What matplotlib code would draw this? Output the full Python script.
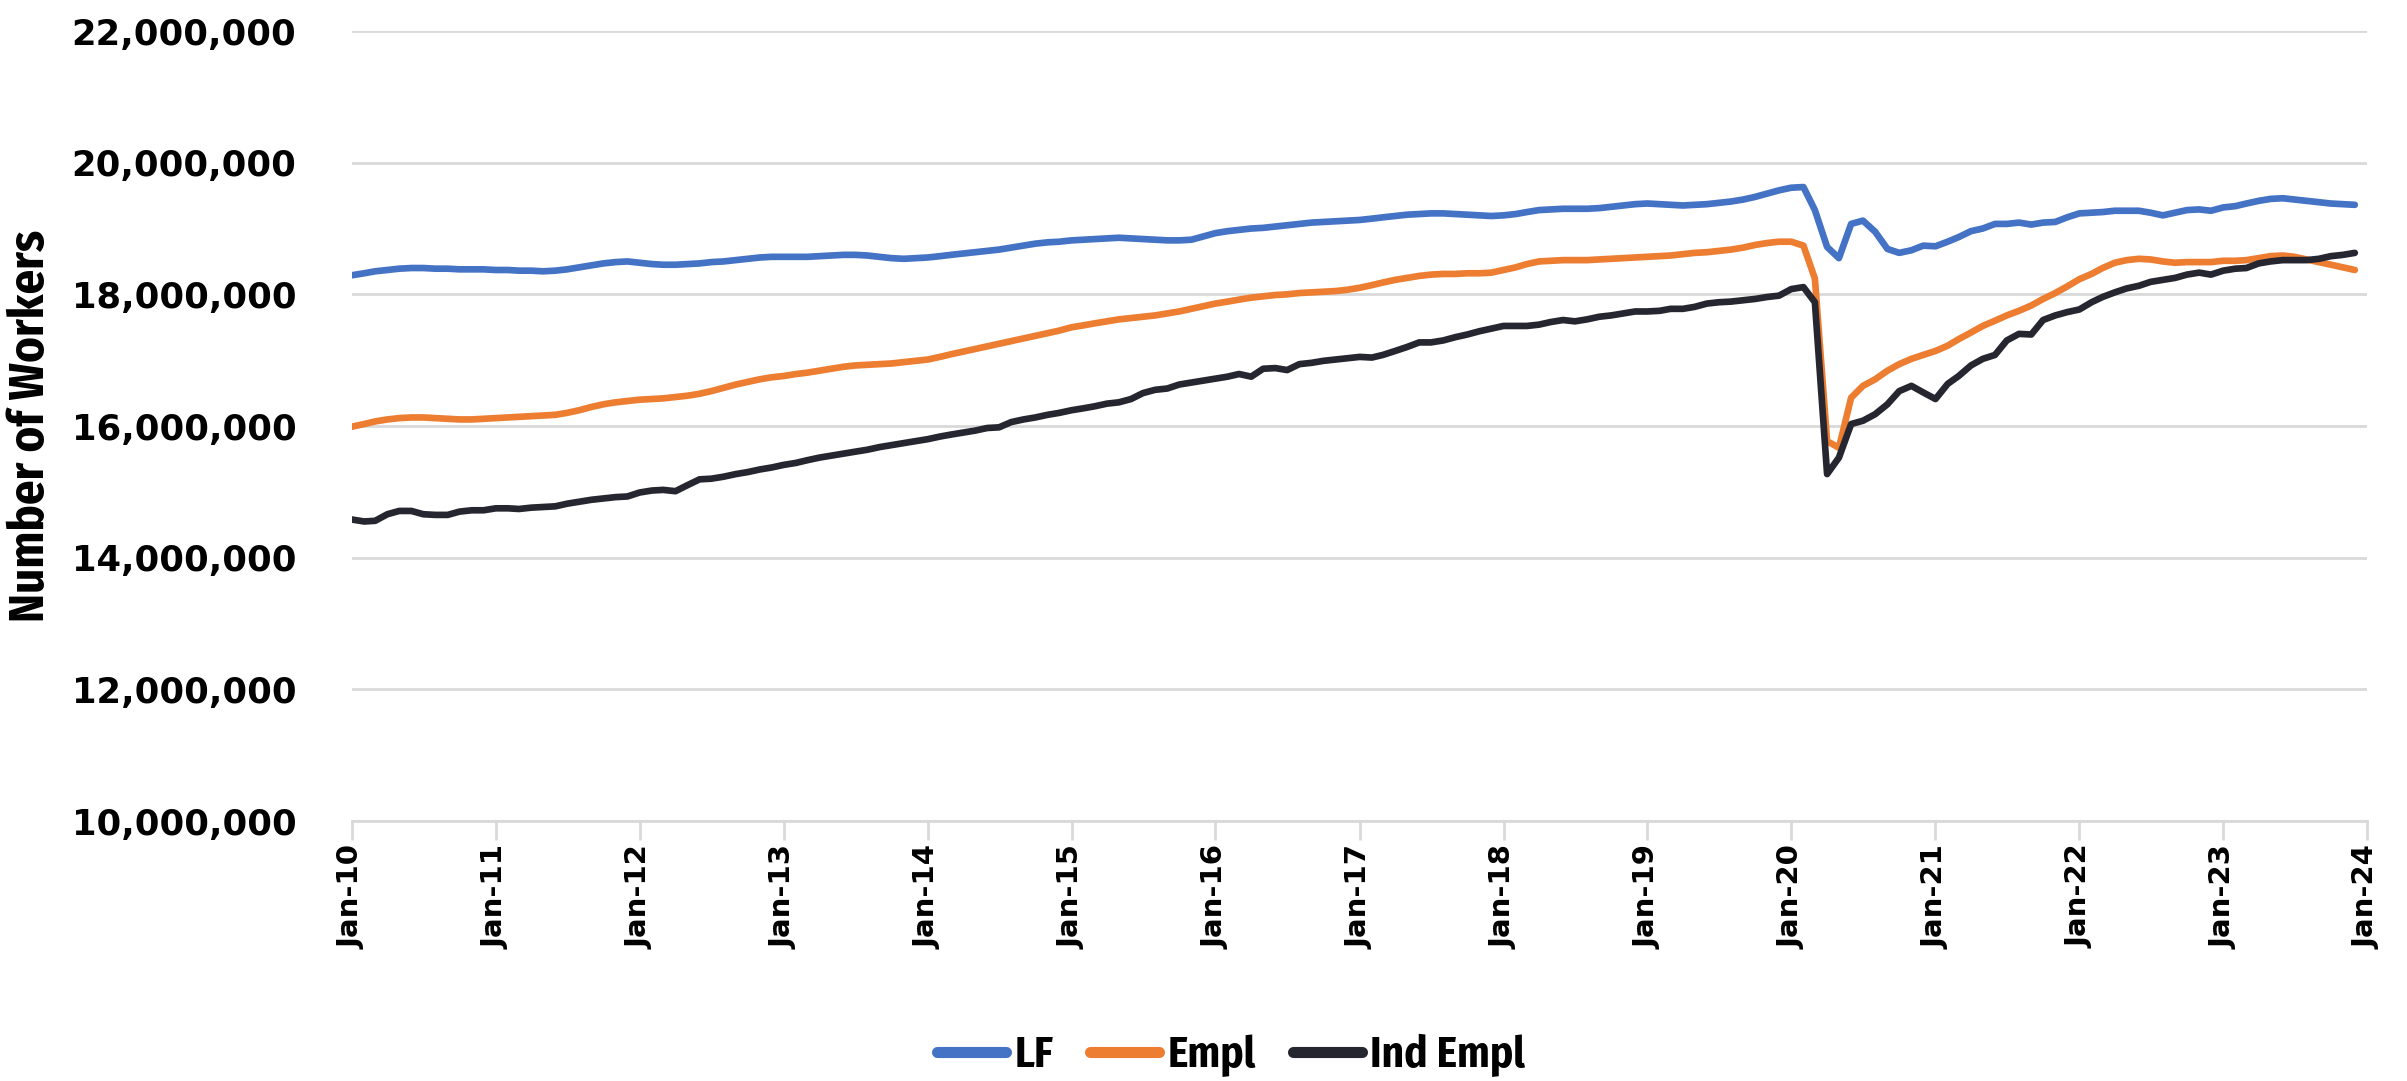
import matplotlib
matplotlib.use("Agg")
import matplotlib.pyplot as plt
import matplotlib.dates as mdates
import matplotlib.ticker as mticker
from matplotlib import font_manager as fm
import pandas as pd
import numpy as np

# Monthly values, Jan-2010 .. Dec-2023 (millions of workers)
lf_millions = [
    18.29, 18.32, 18.35, 18.37, 18.39, 18.40, 18.40, 18.39, 18.39, 18.38, 18.38, 18.38,  # 2010
    18.37, 18.37, 18.36, 18.36, 18.35, 18.36, 18.38, 18.41, 18.44, 18.47, 18.49, 18.50,  # 2011
    18.48, 18.46, 18.45, 18.45, 18.46, 18.47, 18.49, 18.50, 18.52, 18.54, 18.56, 18.57,  # 2012
    18.57, 18.57, 18.57, 18.58, 18.59, 18.60, 18.60, 18.59, 18.57, 18.55, 18.54, 18.55,  # 2013
    18.56, 18.58, 18.60, 18.62, 18.64, 18.66, 18.68, 18.71, 18.74, 18.77, 18.79, 18.80,  # 2014
    18.82, 18.83, 18.84, 18.85, 18.86, 18.85, 18.84, 18.83, 18.82, 18.82, 18.83, 18.88,  # 2015
    18.93, 18.96, 18.98, 19.00, 19.01, 19.03, 19.05, 19.07, 19.09, 19.10, 19.11, 19.12,  # 2016
    19.13, 19.15, 19.17, 19.19, 19.21, 19.22, 19.23, 19.23, 19.22, 19.21, 19.20, 19.19,  # 2017
    19.20, 19.22, 19.25, 19.28, 19.29, 19.30, 19.30, 19.30, 19.31, 19.33, 19.35, 19.37,  # 2018
    19.38, 19.37, 19.36, 19.35, 19.36, 19.37, 19.39, 19.41, 19.44, 19.48, 19.53, 19.58,  # 2019
    19.62, 19.63, 19.28, 18.72, 18.55, 19.07, 19.12, 18.95, 18.69, 18.63, 18.67, 18.74,  # 2020
    18.73, 18.80, 18.87, 18.96, 19.00, 19.07, 19.07, 19.09, 19.06, 19.09, 19.10, 19.17,  # 2021
    19.23, 19.24, 19.25, 19.27, 19.27, 19.27, 19.24, 19.20, 19.24, 19.28, 19.29, 19.27,  # 2022
    19.32, 19.34, 19.38, 19.42, 19.45, 19.46, 19.44, 19.42, 19.40, 19.38, 19.37, 19.36,  # 2023
]

empl_millions = [
    15.99, 16.03, 16.07, 16.10, 16.12, 16.13, 16.13, 16.12, 16.11, 16.10, 16.10, 16.11,  # 2010
    16.12, 16.13, 16.14, 16.15, 16.16, 16.17, 16.20, 16.24, 16.29, 16.33, 16.36, 16.38,  # 2011
    16.40, 16.41, 16.42, 16.44, 16.46, 16.49, 16.53, 16.58, 16.63, 16.67, 16.71, 16.74,  # 2012
    16.76, 16.79, 16.81, 16.84, 16.87, 16.90, 16.92, 16.93, 16.94, 16.95, 16.97, 16.99,  # 2013
    17.01, 17.05, 17.09, 17.13, 17.17, 17.21, 17.25, 17.29, 17.33, 17.37, 17.41, 17.45,  # 2014
    17.50, 17.53, 17.56, 17.59, 17.62, 17.64, 17.66, 17.68, 17.71, 17.74, 17.78, 17.82,  # 2015
    17.86, 17.89, 17.92, 17.95, 17.97, 17.99, 18.00, 18.02, 18.03, 18.04, 18.05, 18.07,  # 2016
    18.10, 18.14, 18.18, 18.22, 18.25, 18.28, 18.30, 18.31, 18.31, 18.32, 18.32, 18.33,  # 2017
    18.37, 18.41, 18.46, 18.50, 18.51, 18.52, 18.52, 18.52, 18.53, 18.54, 18.55, 18.56,  # 2018
    18.57, 18.58, 18.59, 18.61, 18.63, 18.64, 18.66, 18.68, 18.71, 18.75, 18.78, 18.80,  # 2019
    18.80, 18.74, 18.24, 15.77, 15.67, 16.43, 16.61, 16.71, 16.84, 16.94, 17.02, 17.08,  # 2020
    17.14, 17.22, 17.32, 17.42, 17.52, 17.60, 17.68, 17.75, 17.83, 17.93, 18.02, 18.12,  # 2021
    18.23, 18.31, 18.40, 18.48, 18.52, 18.54, 18.53, 18.50, 18.48, 18.49, 18.49, 18.49,  # 2022
    18.51, 18.51, 18.52, 18.55, 18.58, 18.59, 18.57, 18.53, 18.49, 18.45, 18.41, 18.37,  # 2023
]

ind_empl_millions = [
    14.58, 14.55, 14.56, 14.66, 14.71, 14.71, 14.66, 14.65, 14.65, 14.70, 14.72, 14.72,  # 2010
    14.75, 14.75, 14.74, 14.76, 14.77, 14.78, 14.82, 14.85, 14.88, 14.90, 14.92, 14.93,  # 2011
    14.99, 15.02, 15.03, 15.01, 15.10, 15.19, 15.20, 15.23, 15.27, 15.30, 15.34, 15.37,  # 2012
    15.41, 15.44, 15.48, 15.52, 15.55, 15.58, 15.61, 15.64, 15.68, 15.71, 15.74, 15.77,  # 2013
    15.80, 15.84, 15.87, 15.90, 15.93, 15.97, 15.98, 16.06, 16.10, 16.13, 16.17, 16.20,  # 2014
    16.24, 16.27, 16.30, 16.34, 16.36, 16.41, 16.50, 16.55, 16.57, 16.63, 16.66, 16.69,  # 2015
    16.72, 16.75, 16.79, 16.75, 16.87, 16.88, 16.85, 16.94, 16.96, 16.99, 17.01, 17.03,  # 2016
    17.05, 17.04, 17.08, 17.14, 17.20, 17.27, 17.27, 17.30, 17.35, 17.39, 17.44, 17.48,  # 2017
    17.52, 17.52, 17.52, 17.54, 17.58, 17.61, 17.59, 17.62, 17.66, 17.68, 17.71, 17.74,  # 2018
    17.74, 17.75, 17.78, 17.78, 17.81, 17.86, 17.88, 17.89, 17.91, 17.93, 17.96, 17.98,  # 2019
    18.08, 18.11, 17.88, 15.27, 15.52, 16.03, 16.08, 16.18, 16.33, 16.53, 16.61, 16.51,  # 2020
    16.41, 16.64, 16.76, 16.92, 17.02, 17.08, 17.30, 17.40, 17.39, 17.61, 17.68, 17.73,  # 2021
    17.77, 17.88, 17.96, 18.03, 18.09, 18.13, 18.19, 18.22, 18.25, 18.30, 18.33, 18.30,  # 2022
    18.36, 18.39, 18.40, 18.47, 18.50, 18.52, 18.52, 18.52, 18.54, 18.58, 18.60, 18.63,  # 2023
]

series_names = ["LF", "Empl", "Ind Empl"]
series_colors = ["#4472C4", "#ED7D31", "#262630"]

dates = pd.date_range("2010-01-01", periods=len(lf_millions), freq="MS")
series = [np.array(lf_millions) * 1e6,
          np.array(empl_millions) * 1e6,
          np.array(ind_empl_millions) * 1e6]

_avail = {f.name for f in fm.fontManager.ttflist}
def _pick(cands):
    for c in cands:
        if c in _avail:
            return c
    return "DejaVu Sans"

narrow = [_pick(["Fira Sans Condensed", "Roboto Condensed", "Open Sans Condensed",
                 "Liberation Sans Narrow", "DejaVu Sans"]), "DejaVu Sans"]

fig = plt.figure(figsize=(24.07, 10.81), dpi=100)
ax = fig.add_axes([0.1462, 0.2405, 0.8372, 0.7308])

for name, color, vals in zip(series_names, series_colors, series):
    ax.plot(dates, vals, color=color, lw=4.8, label=name,
            solid_capstyle="round", solid_joinstyle="round")

ax.set_ylim(10_000_000, 22_000_000)
ax.yaxis.set_major_locator(mticker.MultipleLocator(2_000_000))
ax.yaxis.set_major_formatter(mticker.FuncFormatter(lambda v, p: f"{v:,.0f}"))
ax.set_xlim(pd.Timestamp("2010-01-01"), pd.Timestamp("2024-01-01"))
ax.xaxis.set_major_locator(mdates.YearLocator(1, month=1, day=1))
ax.xaxis.set_major_formatter(mdates.DateFormatter("%b-%y"))

ax.grid(axis="y", color="#d9d9d9", lw=2)
ax.set_axisbelow(True)
for s in ["top", "right", "left"]:
    ax.spines[s].set_visible(False)
ax.spines["bottom"].set_color("#d9d9d9")
ax.spines["bottom"].set_linewidth(2)

ax.tick_params(axis="y", length=0, pad=40, labelsize=25.5)
ax.tick_params(axis="x", length=14, width=2, color="#d9d9d9", pad=3,
               labelsize=21, labelrotation=90)
for lab in ax.get_yticklabels() + ax.get_xticklabels():
    lab.set_fontweight("bold")

ax.set_ylabel("Number of Workers", fontsize=35, family=narrow, fontweight="bold")
ax.yaxis.label.set_va("center")
ax.yaxis.set_label_coords(-0.159, 0.5)

leg = fig.legend(loc="center", bbox_to_anchor=(0.5115, 0.024), ncol=3, frameon=False,
                 prop={"family": narrow, "size": 31, "weight": "bold"},
                 handlelength=1.6, columnspacing=0.85, handletextpad=0.2)
for h in leg.legend_handles:
    h.set_linewidth(8)
    h.set_solid_capstyle("round")

fig.savefig("out.png", dpi=100)
